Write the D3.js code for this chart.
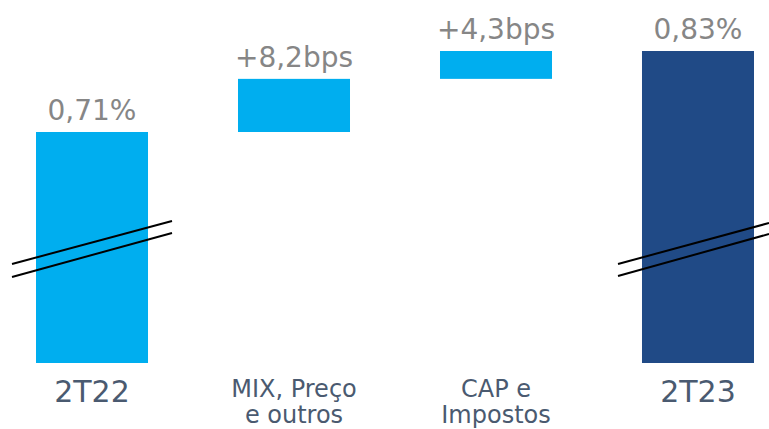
<!DOCTYPE html>
<html lang="pt">
<head>
<meta charset="utf-8">
<title>2T22 x 2T23</title>
<script src="https://cdn.jsdelivr.net/npm/d3@7"></script>
<style>
  html, body { margin: 0; padding: 0; background: #fff; }
  svg { display: block; font-family: "DejaVu Sans", "Noto Sans", sans-serif; }
</style>
</head>
<body>
<svg width="769" height="429"></svg>
<script>
// data
var categories = ["2T22", "MIX, Preço|e outros", "CAP e|Impostos", "2T23"];
var deltas = [0.71, 0.082, 0.043, null];   // start, increments, total
var valueLabels = ["0,71%", "+8,2bps", "+4,3bps", "0,83%"];
var kinds = ["total", "step", "step", "total"];

var svg = d3.select("svg"),
    width = +svg.attr("width"),
    height = +svg.attr("height");

// build waterfall start/end
var bars = [], run = 0;
categories.forEach(function(c, i) {
  var d = deltas[i];
  if (i === 0) { bars.push({ cat: c, y0: 0, y1: d }); run = d; }
  else if (d === null) { bars.push({ cat: c, y0: 0, y1: run }); }
  else { bars.push({ cat: c, y0: run, y1: run + d }); run += d; }
  bars[i].label = valueLabels[i];
  bars[i].kind = kinds[i];
});

var x = d3.scaleBand()
    .domain(categories)
    .range([36, 754])
    .paddingInner(0.4455)
    .paddingOuter(0);

// broken axis: bottom of plot stands for 0.3535
var y = d3.scaleLinear()
    .domain([0.3535, 0.835])
    .range([363, 51]);

var colors = ["#00aeef", "#00aeef", "#00aeef", "#204a86"];

svg.selectAll("rect.bar")
  .data(bars)
  .enter().append("rect")
    .attr("class", "bar")
    .attr("x", function(d) { return x(d.cat); })
    .attr("width", x.bandwidth())
    .attr("y", function(d) { return y(d.y1); })
    .attr("height", function(d) { return y(Math.max(d.y0, y.domain()[0])) - y(d.y1); })
    .attr("fill", function(d, i) { return colors[i]; });

// value labels
svg.selectAll("text.val")
  .data(bars)
  .enter().append("text")
    .attr("class", "val")
    .attr("x", function(d) { return x(d.cat) + x.bandwidth() / 2; })
    .attr("y", function(d) { return y(d.y1) - 12; })
    .attr("text-anchor", "middle")
    .attr("fill", "#868686")
    .style("font-size", "28px")
    .text(function(d) { return d.label; });

// category labels, one text per line
var lines = [];
bars.forEach(function(d) {
  d.cat.split("|").forEach(function(t, j) { lines.push({ t: t, j: j, d: d }); });
});

svg.selectAll("text.cat")
  .data(lines)
  .enter().append("text")
    .attr("class", "cat")
    .attr("text-anchor", "middle")
    .attr("fill", "#4a5a70")
    .attr("x", function(o) { return x(o.d.cat) + x.bandwidth() / 2; })
    .attr("y", function(o) { return o.d.kind === "total" ? 402 : 397 + o.j * 26; })
    .style("font-size", function(o) { return o.d.kind === "total" ? "30px" : "24px"; })
    .text(function(o) { return o.t; });

// axis break marks on the total bars
var breaks = [
  { x0: 12, x1: 172, a: [264, 221], b: [277, 233] },
  { x0: 618, x1: 769, a: [264, 223], b: [276, 234] }
];
breaks.forEach(function(b) {
  [b.a, b.b].forEach(function(p) {
    svg.append("line")
      .attr("x1", b.x0).attr("y1", p[0])
      .attr("x2", b.x1).attr("y2", p[1])
      .attr("stroke", "#000")
      .attr("stroke-width", 2);
  });
});
</script>
</body>
</html>
